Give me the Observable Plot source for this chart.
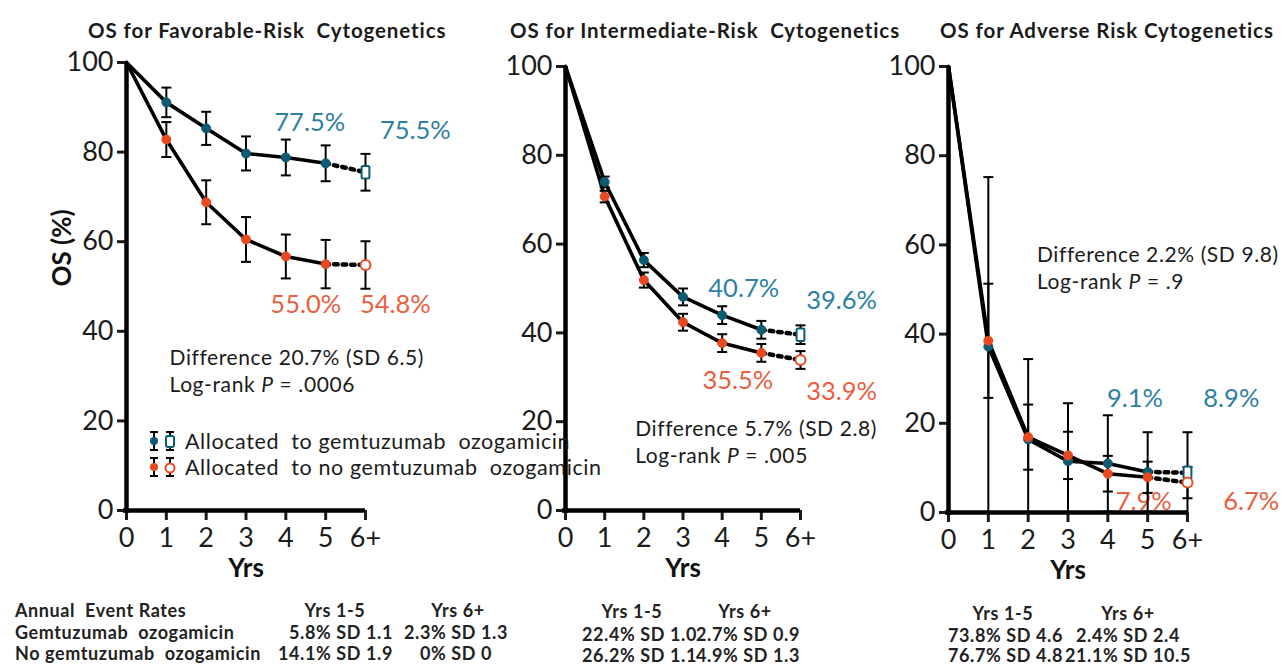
<!DOCTYPE html>
<html>
<head>
<meta charset="utf-8">
<script src="https://cdn.jsdelivr.net/npm/d3@7"></script>
<script src="https://cdn.jsdelivr.net/npm/@observablehq/plot@0.6"></script>
<style>
  html, body { margin: 0; padding: 0; background: #fff; }
  #page { position: relative; width: 1287px; height: 666px; overflow: hidden; font-family: Lato, "Open Sans", sans-serif; color: #1b1b1b; }
  .title { position: absolute; top: 17px; font-size: 20.5px; letter-spacing: 0.9px; font-weight: 700; white-space: pre; line-height: 26px; }
  .tbl { position: absolute; font-size: 18px; letter-spacing: 0.6px; font-weight: 700; white-space: pre; line-height: 20px; color: #222; }
  .legend { position: absolute; left: 146px; font-size: 21.5px; letter-spacing: 0.6px; white-space: pre; line-height: 26px; display: flex; align-items: center; }
  .legend svg { margin-right: 3px; }
</style>
</head>
<body>
<div id="page"></div>
<script>
// Follow-up years (6 = "6+")
const years = [0, 1, 2, 3, 4, 5, 6];
const yearLabels = ["0", "1", "2", "3", "4", "5", "6+"];
const yTicks = [0, 20, 40, 60, 80, 100];

// Favorable-risk cytogenetics: OS (%) and SD
const favGO    = [100, 91.1, 85.3, 79.7, 78.8, 77.5, 75.5];
const favGOSd  = [0, 3.3, 3.7, 3.8, 4.0, 4.0, 4.1];
const favNo    = [100, 82.8, 68.8, 60.5, 56.7, 55.0, 54.8];
const favNoSd  = [0, 3.9, 4.9, 5.0, 4.9, 5.4, 5.3];

// Intermediate-risk cytogenetics
const intGO    = [100, 74.0, 56.4, 48.1, 44.0, 40.7, 39.6];
const intGOSd  = [0, 1.2, 1.6, 1.9, 2.0, 2.0, 2.1];
const intNo    = [100, 70.7, 51.9, 42.4, 37.7, 35.5, 33.9];
const intNoSd  = [0, 1.3, 1.7, 1.9, 2.0, 2.0, 2.0];

// Adverse-risk cytogenetics
const advGO    = [100, 37.2, 16.4, 11.5, 11.0, 9.1, 8.9];
const advGOSd  = [0, 38.0, 18.0, 13.0, 10.8, 8.9, 9.1];
const advNo    = [100, 38.5, 16.9, 12.8, 8.7, 7.9, 6.7];
const advNoSd  = [0, 12.8, 7.3, 5.3, 4.0, 3.5, 3.5];

// Panel titles and summary statistics
const titles = ["OS for Favorable-Risk  Cytogenetics", "OS for Intermediate-Risk  Cytogenetics", "OS for Adverse Risk Cytogenetics"];
const differences = ["Difference 20.7% (SD 6.5)", "Difference 5.7% (SD 2.8)", "Difference 2.2% (SD 9.8)"];
const pValues = [".0006", ".005", ".9"];

// Annual event rates table
const tableHeader = ["Annual  Event Rates", "Yrs 1-5", "Yrs 6+"];
const armNames = ["Gemtuzumab  ozogamicin", "No gemtuzumab  ozogamicin"];
const ratesGO15 = ["5.8% SD 1.1", "22.4% SD 1.0", "73.8% SD 4.6"];
const ratesGO6  = ["2.3% SD 1.3", "2.7% SD 0.9", "2.4% SD 2.4"];
const ratesNo15 = ["14.1% SD 1.9", "26.2% SD 1.1", "76.7% SD 4.8"];
const ratesNo6  = ["0% SD 0", "4.9% SD 1.3", "21.1% SD 10.5"];

const legendNames = ["Allocated  to gemtuzumab  ozogamicin", "Allocated  to no gemtuzumab  ozogamicin"];

const BLUE = "#0d5a73", BLUE_TXT = "#2f7fa1";
const RED = "#e8491f", RED_TXT = "#e8603f";

// Custom symbols: a horizontal cap for error bars and a tall rounded box
const capSymbol = {draw(ctx, size) { const w = Math.sqrt(size / Math.PI); ctx.moveTo(-w, 0); ctx.lineTo(w, 0); }};
const boxSymbol = {draw(ctx, size) {
  const r = Math.sqrt(size / Math.PI), w = r * 0.65, h = r * 1.05, k = 1.5;
  ctx.moveTo(-w, -h + k); ctx.lineTo(-w, h - k); ctx.quadraticCurveTo(-w, h, -w + k, h);
  ctx.lineTo(w - k, h); ctx.quadraticCurveTo(w, h, w, h - k); ctx.lineTo(w, -h + k);
  ctx.quadraticCurveTo(w, -h, w - k, -h); ctx.lineTo(-w + k, -h); ctx.quadraticCurveTo(-w, -h, -w, -h + k); ctx.closePath();
}};

// Per-panel layout: axis pixel positions and annotation placement (data units)
const panels = [
  {go: favGO, goSd: favGOSd, no: favNo, noSd: favNoSd, x0: 126, x6: 365, yTop: 62, yBottom: 510,
   labels: [[4.6, 86.6, "77.5%", "go"], [7.25, 84.8, "75.5%", "go"], [4.5, 46.0, "55.0%", "no"], [6.75, 46.0, "54.8%", "no"]],
   stat: [1.08, 34.0], showYLabel: true},
  {go: intGO, goSd: intGOSd, no: intNo, noSd: intNoSd, x0: 565, x6: 800, yTop: 66, yBottom: 510,
   labels: [[4.55, 50.0, "40.7%", "go"], [7.05, 47.3, "39.6%", "go"], [4.4, 29.3, "35.5%", "no"], [7.05, 26.8, "33.9%", "no"]],
   stat: [1.78, 18.4], showYLabel: false},
  {go: advGO, goSd: advGOSd, no: advNo, noSd: advNoSd, x0: 948, x6: 1187, yTop: 66, yBottom: 512,
   labels: [[4.68, 25.5, "9.1%", "go"], [7.1, 25.5, "8.9%", "go"], [4.9, 2.4, "7.9%", "no"], [7.6, 2.4, "6.7%", "no"]],
   stat: [2.22, 57.6], showYLabel: false}
];

const page = document.getElementById("page");
const W = 1287, H = 600;

panels.forEach((p, pi) => {
  const rows = [];
  years.forEach((yr, i) => {
    rows.push({arm: "go", year: yr, os: p.go[i], sd: p.goSd[i]});
    rows.push({arm: "no", year: yr, os: p.no[i], sd: p.noSd[i]});
  });
  const withSd = rows.filter(d => d.sd > 0);
  const lo = d => Math.max(0, d.os - d.sd);
  const hi = d => Math.min(100, d.os + d.sd);
  const armColor = d => d.arm === "go" ? BLUE : RED;
  const labelRows = p.labels.map(([x, y, text, arm]) => ({x, y, text, arm}));

  const marks = [
    // value labels
    Plot.text(labelRows, {x: "x", y: "y", text: "text", fill: d => d.arm === "go" ? BLUE_TXT : RED_TXT, fontSize: 25.5}),
    // summary statistics
    Plot.text([0], {x: () => p.stat[0], y: () => p.stat[1], text: () => differences[pi], textAnchor: "start", fontSize: 21, fill: "#1b1b1b"}),
    Plot.text([0], {x: () => p.stat[0], y: () => p.stat[1], dy: 27, text: () => "Log-rank P = " + pValues[pi], textAnchor: "start", fontSize: 21, fill: "#1b1b1b"}),
    // survival curves: solid through year 5, dotted to 6+
    Plot.line(rows.filter(d => d.year <= 5), {x: "year", y: "os", z: "arm", stroke: "#000", strokeWidth: 3.6, strokeLinejoin: "round"}),
    Plot.line(rows.filter(d => d.year >= 5), {x: "year", y: "os", z: "arm", stroke: "#000", strokeWidth: 4.5, strokeDasharray: "3.5,5"}),
    // error bars
    Plot.ruleX(withSd, {x: "year", y1: lo, y2: hi, stroke: "#000", strokeWidth: 2}),
    Plot.dot(withSd.filter(d => d.os - d.sd > 0), {x: "year", y: lo, symbol: capSymbol, r: 5, stroke: "#000", strokeWidth: 2}),
    Plot.dot(withSd, {x: "year", y: hi, symbol: capSymbol, r: 5, stroke: "#000", strokeWidth: 2}),
    // markers
    Plot.dot(rows.filter(d => d.year >= 1 && d.year <= 5), {x: "year", y: "os", r: 4.5, fill: armColor, stroke: armColor, strokeWidth: 1}),
    Plot.dot(rows.filter(d => d.year === 6 && d.arm === "go"), {x: "year", y: "os", symbol: boxSymbol, r: 6, fill: "#fff", stroke: BLUE, strokeWidth: 2}),
    Plot.dot(rows.filter(d => d.year === 6 && d.arm === "no"), {x: "year", y: "os", r: 5, fill: "#fff", stroke: RED, strokeWidth: 2}),
    // axes
    Plot.axisY({ticks: yTicks, tickSize: 9, tickPadding: 4, fontSize: 27, strokeWidth: 3, label: null, color: "#1b1b1b"}),
    Plot.axisX({ticks: years, tickSize: 10, tickPadding: 7, fontSize: 27, strokeWidth: 3, label: null, color: "#1b1b1b", tickFormat: d => yearLabels[years.indexOf(d)]}),
    Plot.ruleX([0], {stroke: "#000", strokeWidth: 4.5, insetBottom: -3}),
    Plot.ruleY([0], {stroke: "#000", strokeWidth: 4.5, insetLeft: -3}),
    Plot.text(["Yrs"], {frameAnchor: "bottom", dy: 58, lineAnchor: "middle", text: d => d, fontSize: 26, fontWeight: 700, fill: "#111"})
  ];
  if (p.showYLabel) {
    marks.push(Plot.text(["OS (%)"], {frameAnchor: "left", dx: -64, rotate: -90, text: d => d, fontSize: 26, fontWeight: 700, fill: "#111"}));
  }

  const svg = Plot.plot({
    width: W, height: H,
    marginLeft: p.x0, marginRight: W - p.x6, marginTop: p.yTop, marginBottom: H - p.yBottom,
    x: {type: "linear", domain: [0, 6]},
    y: {type: "linear", domain: [0, 100]},
    style: {background: "transparent", overflow: "visible", fontFamily: "Lato, 'Open Sans', sans-serif"},
    marks
  });
  svg.style.position = "absolute";
  svg.style.left = "0px";
  svg.style.top = "0px";

  // italic P in the log-rank statistic, slightly wider tracking for the statistics
  svg.querySelectorAll("text").forEach(t => {
    const s = t.textContent;
    if (s.startsWith("Difference") || s.startsWith("Log-rank")) t.setAttribute("letter-spacing", "0.6");
    if (t.childElementCount === 0 && s.startsWith("Log-rank P")) {
      const rest = s.slice("Log-rank P".length);
      t.textContent = "Log-rank ";
      const it = document.createElementNS("http://www.w3.org/2000/svg", "tspan");
      it.setAttribute("font-style", "italic");
      it.textContent = "P";
      t.appendChild(it);
      t.appendChild(document.createTextNode(rest));
    }
  });
  page.appendChild(svg);
});

// titles
const titleLeft = [88, 510, 940];
titles.forEach((t, i) => {
  const d = document.createElement("div");
  d.className = "title";
  d.style.left = titleLeft[i] + "px";
  d.textContent = t;
  page.appendChild(d);
});

// legend
function legendIcon(color, openShape) {
  const ns = "http://www.w3.org/2000/svg";
  const s = document.createElementNS(ns, "svg");
  s.setAttribute("width", 36); s.setAttribute("height", 24);
  const bar = (x) => `<line x1="${x}" x2="${x}" y1="3" y2="21" stroke="#000" stroke-width="2"/>` +
    `<line x1="${x - 4}" x2="${x + 4}" y1="3" y2="3" stroke="#000" stroke-width="2"/>` +
    `<line x1="${x - 4}" x2="${x + 4}" y1="21" y2="21" stroke="#000" stroke-width="2"/>`;
  const open = openShape === "box"
    ? `<rect x="20" y="7" width="8" height="11" rx="2" fill="#fff" stroke="${color}" stroke-width="2"/>`
    : `<circle cx="24" cy="13" r="4.5" fill="#fff" stroke="${color}" stroke-width="2"/>`;
  s.innerHTML = bar(8) + `<circle cx="8" cy="12" r="4" fill="${color}"/>` + bar(24) + open;
  return s;
}
[[BLUE, "box", 428], [RED, "circle", 454]].forEach(([c, shape, top], i) => {
  const d = document.createElement("div");
  d.className = "legend";
  d.style.top = top + "px";
  d.appendChild(legendIcon(c, shape));
  d.appendChild(document.createTextNode(legendNames[i]));
  page.appendChild(d);
});

// annual event rate tables
function cell(text, x, y, align) {
  const d = document.createElement("div");
  d.className = "tbl";
  d.textContent = text;
  d.style.top = (y - 10) + "px";
  if (align === "center") { d.style.left = x + "px"; d.style.transform = "translateX(-50%)"; }
  else if (align === "right") { d.style.right = (1287 - x) + "px"; }
  else { d.style.left = x + "px"; }
  page.appendChild(d);
}
cell(tableHeader[0], 15, 610, "left");
cell(armNames[0], 15, 632, "left");
cell(armNames[1], 15, 653, "left");
const tableCols = [
  {h15: 335, h6: 458, hy: 610, c15: 393, c6: 456, r1: 632, r2: 653},
  {h15: 632, h6: 745, hy: 611, c15: 697, c6: 748, r1: 634, r2: 655},
  {h15: 1003, h6: 1128, hy: 613, c15: 1063, c6: 1128, r1: 635, r2: 655}
];
tableCols.forEach((c, i) => {
  cell(tableHeader[1], c.h15, c.hy, "center");
  cell(tableHeader[2], c.h6, c.hy, "center");
  cell(ratesGO15[i], c.c15, c.r1, "right");
  cell(ratesGO6[i], c.c6, c.r1, "center");
  cell(ratesNo15[i], c.c15, c.r2, "right");
  cell(ratesNo6[i], c.c6, c.r2, "center");
});
</script>
</body>
</html>
